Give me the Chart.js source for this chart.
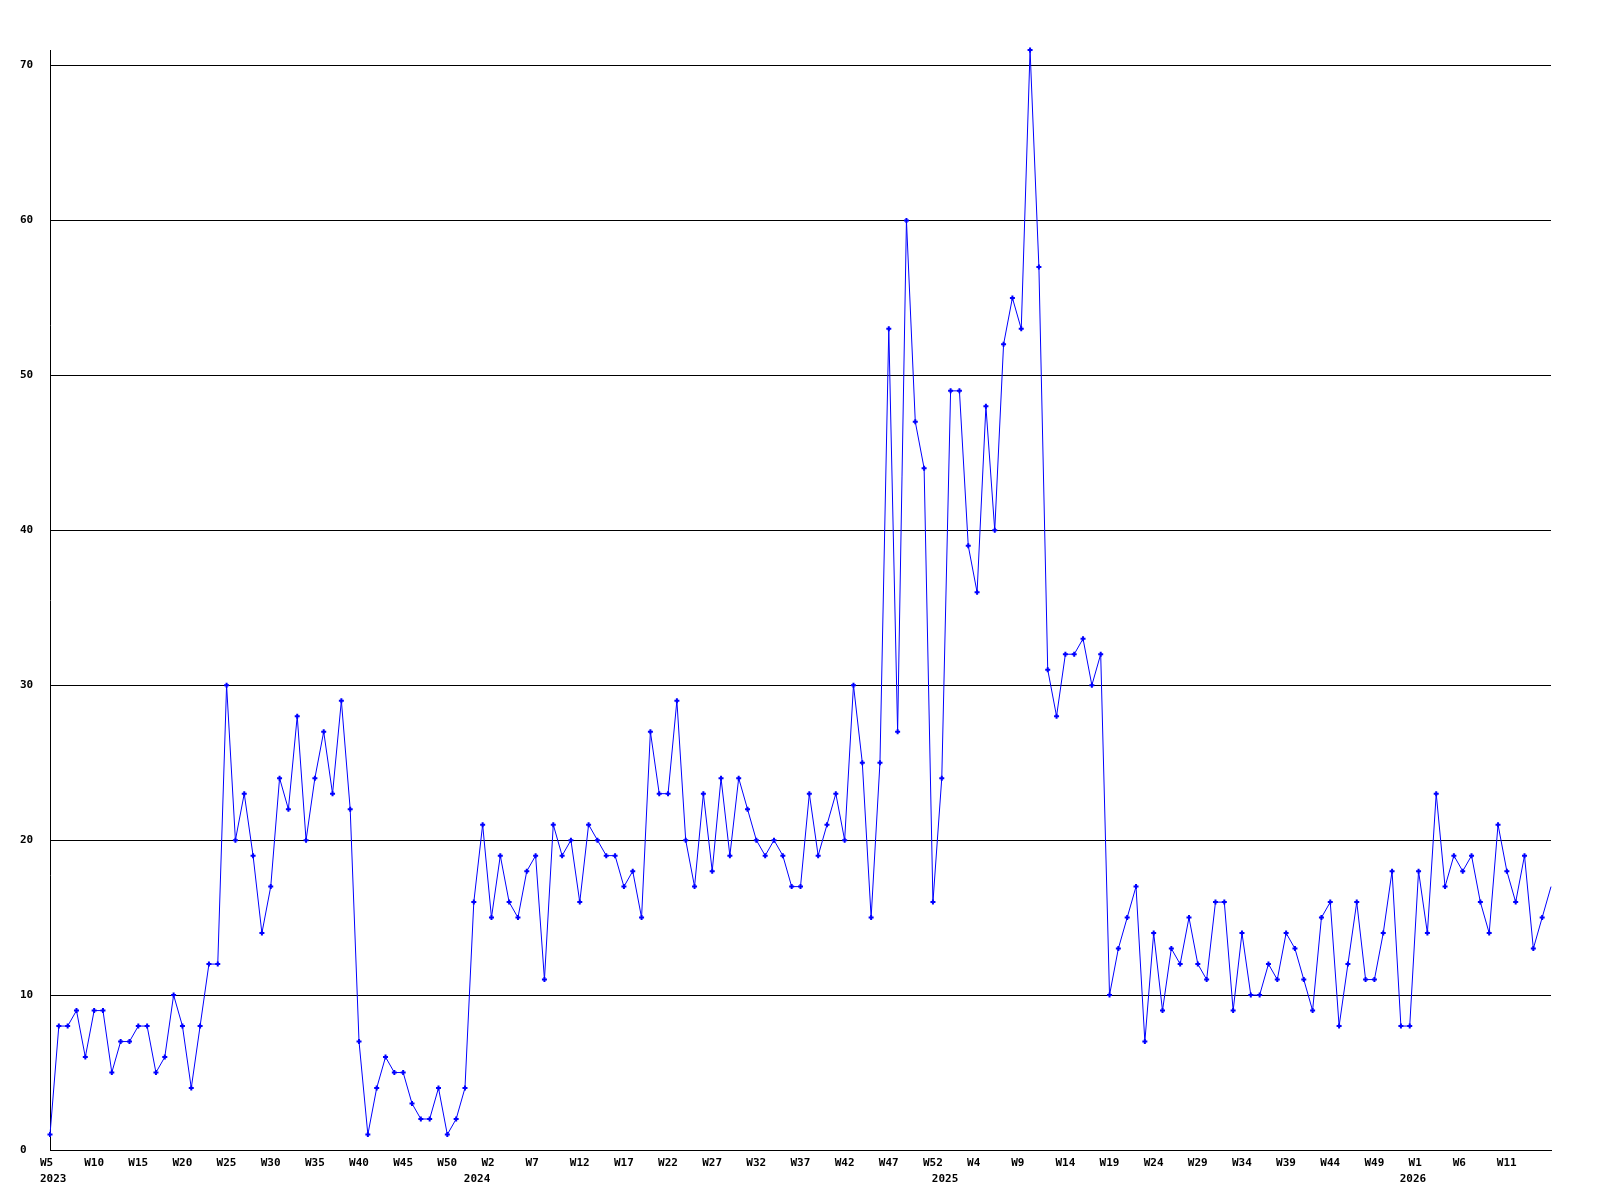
<!DOCTYPE html>
<html><head><meta charset="utf-8">
<script src="https://cdn.jsdelivr.net/npm/chart.js@4.4.1/dist/chart.umd.min.js"></script>
<style>html,body{margin:0;padding:0;background:#fff}#wrap{width:1600px;height:1200px}</style>
</head><body><div id="wrap"><canvas id="c" width="1600" height="1200"></canvas></div>
<script>
// Week ranges per year: [year, first week, last week]
const weekRanges = [[2023, 5, 52], [2024, 0, 52], [2025, 0, 52], [2026, 0, 16]];
const values2023 = [1,8,8,9,6,9,9,5,7,7,8,8,5,6,10,8,4,8,12,12,30,20,23,19,14,17,24,22,28,20,24,27,23,29,22,7,1,4,6,5,5,3,2,2,4,1,2,4];
const values2024 = [16,21,15,19,16,15,18,19,11,21,19,20,16,21,20,19,19,17,18,15,27,23,23,29,20,17,23,18,24,19,24,22,20,19,20,19,17,17,23,19,21,23,20,30,25,15,25,53,27,60,47,44,16];
const values2025 = [24,49,49,39,36,48,40,52,55,53,71,57,31,28,32,32,33,30,32,10,13,15,17,7,14,9,13,12,15,12,11,16,16,9,14,10,10,12,11,14,13,11,9,15,16,8,12,16,11,11,14,18,8];
const values2026 = [8,18,14,23,17,19,18,19,16,14,21,18,16,19,13,15,17];
const yTicks = [0,10,20,30,40,50,60,70];
const yMax = 71;
const labelEvery = 5;

const categories = [];
const weekOf = [];
const yearStart = {};
weekRanges.forEach(([yr, a, b]) => {
  yearStart[categories.length] = String(yr);
  for (let w = a; w <= b; w++) { categories.push(yr + '-W' + w); weekOf.push('W' + w); }
});
const values = [].concat(values2023, values2024, values2025, values2026);

const FONT = {family: '"DejaVu Sans Mono", "Liberation Mono", monospace', size: 11, weight: 'bold', lineHeight: '16px'};

new Chart(document.getElementById('c'), {
  type: 'line',
  data: {
    labels: categories,
    datasets: [{
      data: values,
      borderColor: '#0000ff',
      backgroundColor: '#0000ff',
      borderWidth: 1,
      tension: 0,
      clip: false,
      pointStyle: 'cross',
      pointRadius: ctx => ctx.dataIndex === values.length - 1 ? 0 : 2.5,
      pointBorderWidth: 2,
      pointBorderColor: '#0000ff',
      pointHoverRadius: 0,
      fill: false
    }]
  },
  options: {
    responsive: false,
    animation: false,
    devicePixelRatio: 1,
    layout: {padding: {left: 20, top: 50, right: 49, bottom: 0}},
    plugins: {legend: {display: false}, tooltip: {enabled: false}},
    scales: {
      x: {
        type: 'category',
        offset: false,
        afterFit: s => { s.height = 50; },
        grid: {display: false, drawTicks: false, tickLength: 0},
        border: {display: true, color: '#000', width: 1},
        ticks: {
          autoSkip: false, maxRotation: 0, minRotation: 0,
          align: 'start', labelOffset: -10, padding: 5,
          color: '#000', font: FONT,
          callback: (v, i) => {
            const wk = (i % labelEvery === 0 && i < values.length - 1) ? weekOf[i] : '';
            const yr = yearStart[i] || '';
            if (!wk && !yr) return '';
            return yr ? [wk, yr] : wk;
          }
        }
      },
      y: {
        min: 0, max: yMax,
        afterFit: s => { s.width = 30; },
        afterBuildTicks: s => { s.ticks = yTicks.map(v => ({value: v})); },
        grid: {display: true, color: '#000', lineWidth: 1, drawTicks: false, tickLength: 0},
        border: {display: true, color: '#000', width: 1},
        ticks: {crossAlign: 'far', padding: 0, color: '#000', font: FONT, includeBounds: false}
      }
    }
  }
});
</script></body></html>
